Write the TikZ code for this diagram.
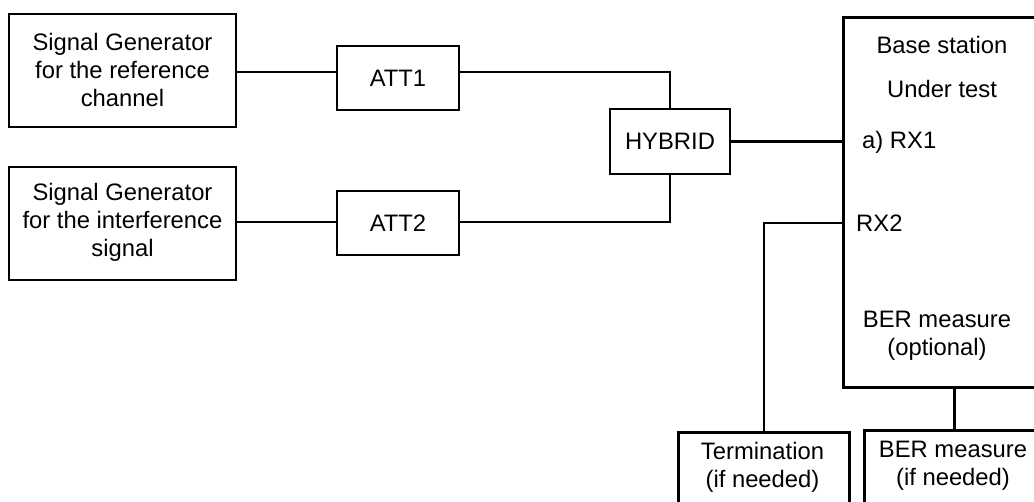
\documentclass[tikz,border=0pt]{standalone}
\usepackage{fontspec}
\setmainfont{Liberation Sans}
\begin{document}
\begin{tikzpicture}[x=1pt,y=-1pt,
  box/.style={draw,line width=2.6pt,inner sep=0pt,align=center},
  txt/.style={inner sep=0pt,align=center,font=\fontsize{23.8}{28}\selectfont},
  wire/.style={line width=2.6pt}]
\useasboundingbox (0,0) rectangle (1034,502);
\clip (0,0) rectangle (1034,502);
\node[box,minimum width=227,minimum height=113] (sg1) at (122.5,70.5) {};
\node[txt] (sg1t) at (122.5,70) {Signal Generator\\for the reference\\channel};
\node[box,minimum width=227,minimum height=113] (sg2) at (122.5,223.5) {};
\node[txt] (sg2t) at (122.5,222) {Signal Generator\\for the interference\\signal};
\node[box,minimum width=122,minimum height=64] (att1) at (398,78) {};
\node[txt] (att1t) at (398,78) {ATT1};
\node[box,minimum width=122,minimum height=64] (att2) at (398,223) {};
\node[txt] (att2t) at (398,223) {ATT2};
\node[box,minimum width=120,minimum height=65] (hyb) at (670,141.5) {};
\node[txt] (hybt) at (670,141.5) {HYBRID};
\node[box,minimum width=200,minimum height=370,anchor=north west] (bs) at (842,16) {};
\node[txt] (bst1) at (942,45) {Base station};
\node[txt] (bst2) at (942,89) {Under test};
\node[txt,anchor=west] (rx1) at (862,142) {a) RX1};
\node[txt,anchor=west] (rx2) at (856,223) {RX2};
\node[txt] (bert) at (937,335.5) {BER measure\\(optional)};
\node[box,minimum width=171,minimum height=100,anchor=north west] (term) at (677,431) {};
\node[txt] (termt) at (762.5,467) {Termination\\(if needed)};
\node[box,minimum width=180,minimum height=100,anchor=north west] (ber) at (863,429) {};
\node[txt] (bert2) at (953,466) {BER measure\\(if needed)};
\coordinate (a1) at (0,72);
\coordinate (a2) at (0,222);
\coordinate (r2) at (0,223);
\draw[wire] (sg1.east |- a1) -- (att1.west |- a1);
\draw[wire] (att1.east |- a1) -| (hyb.north);
\draw[wire] (sg2.east |- a2) -- (att2.west |- a2);
\draw[wire] (att2.east |- a2) -| (hyb.south);
\draw[wire] (hyb.east) -- (hyb.east -| bs.west);
\draw[wire] (bs.west |- r2) -| (term.north);
\draw[wire] (ber.north |- bs.south) -- (ber.north);
\end{tikzpicture}
\end{document}
